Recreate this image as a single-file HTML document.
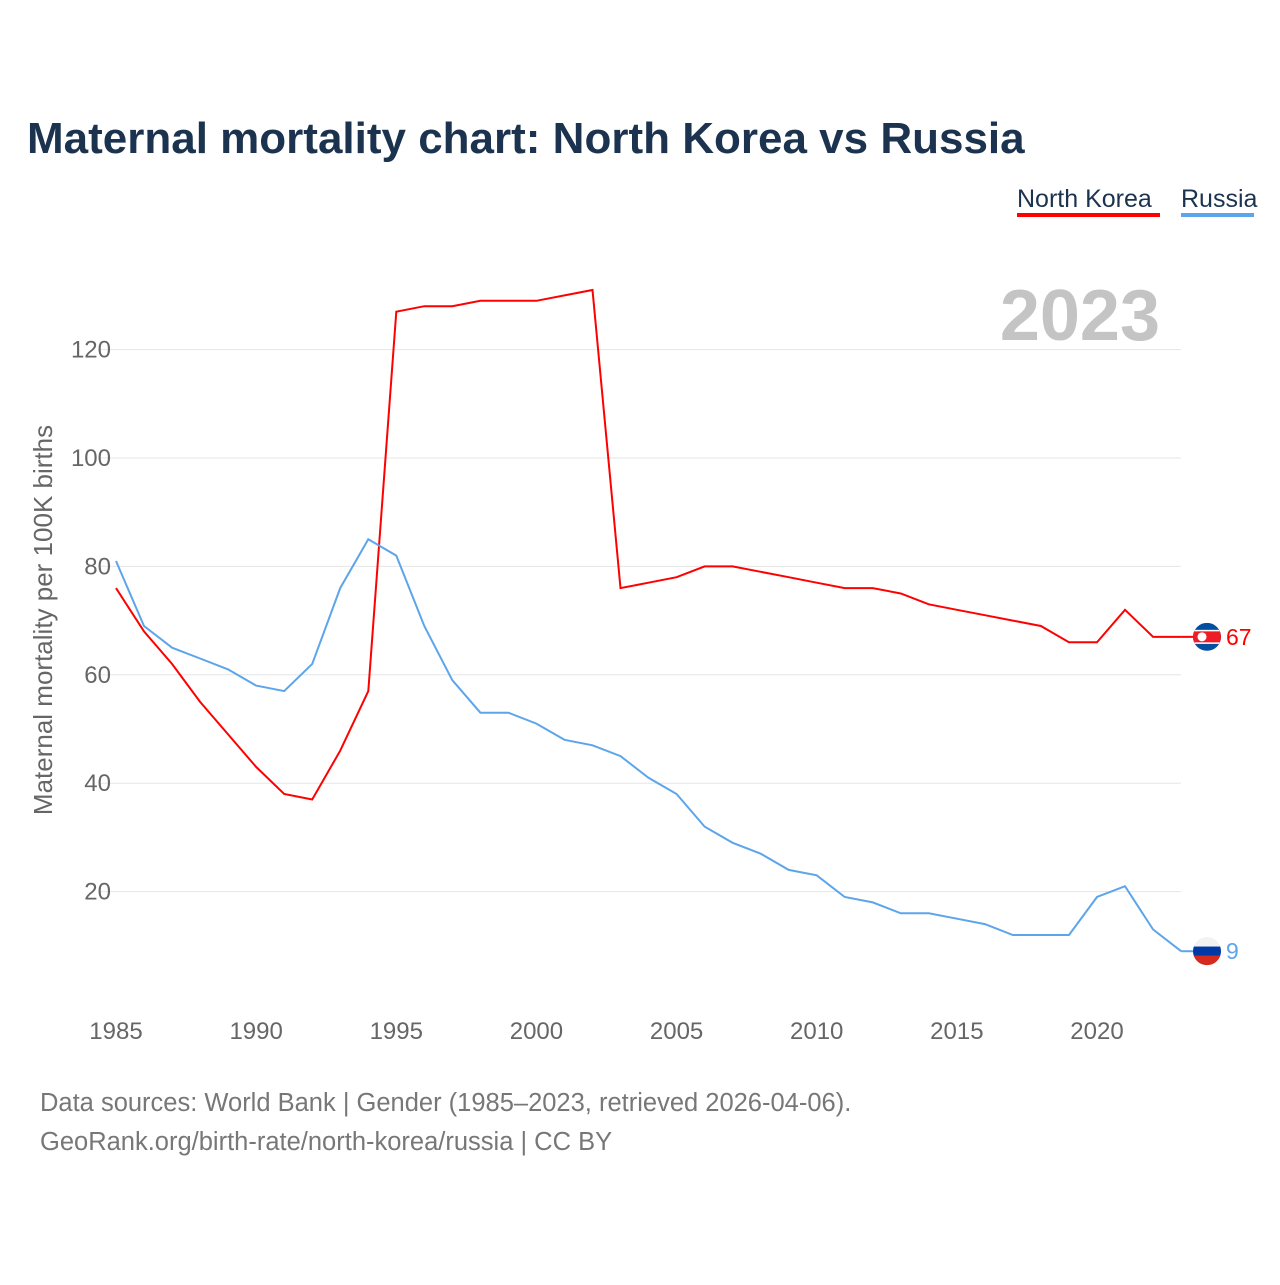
<!DOCTYPE html>
<html><head><meta charset="utf-8"><style>
body{margin:0;background:#fff;font-family:"Liberation Sans",sans-serif;}
svg text{font-family:"Liberation Sans",sans-serif;}
</style></head><body>
<svg id="chart" width="1280" height="1280" xmlns="http://www.w3.org/2000/svg">
<text x="27" y="153" font-size="44" font-weight="bold" fill="#1c3350">Maternal mortality chart: North Korea vs Russia</text>
<g>
<text x="1017" y="207" font-size="25" fill="#1c3350">North Korea</text>
<rect x="1017" y="213" width="143" height="4" fill="#ff0000"/>
<text x="1181" y="207" font-size="25" fill="#1c3350">Russia</text>
<rect x="1181" y="213" width="73" height="4" fill="#5da5ea"/>
</g>
<text x="1160" y="340" font-size="72" font-weight="bold" fill="#c4c4c4" text-anchor="end">2023</text>
<g id="grid"></g>
<g id="yticks"></g>
<g id="xticks"></g>
<text transform="translate(52,620) rotate(-90)" font-size="26" fill="#666" text-anchor="middle">Maternal mortality per 100K births</text>
<g id="series"></g>
<text x="40" y="1111" font-size="25.5" fill="#777">Data sources: World Bank | Gender (1985–2023, retrieved 2026-04-06).</text>
<text x="40" y="1150" font-size="25.5" fill="#777">GeoRank.org/birth-rate/north-korea/russia | CC BY</text>
</svg>
<script>
const years=[];for(let y=1985;y<=2023;y++)years.push(y);
const northKorea=[76,68,62,55,49,43,38,37,46,57,127,128,128,129,129,129,130,131,76,77,78,80,80,79,78,77,76,76,75,73,72,71,70,69,66,66,72,67,67];
const russia=[81,69,65,63,61,58,57,62,76,85,82,69,59,53,53,51,48,47,45,41,38,32,29,27,24,23,19,18,16,16,15,14,12,12,12,19,21,13,9];
const yTicks=[20,40,60,80,100,120];
const xTicks=[1985,1990,1995,2000,2005,2010,2015,2020];
const NS="http://www.w3.org/2000/svg";
const X=y=>116+(y-1985)*(1097-116)/35;
const Y=v=>1000-v*5.42;
function mk(t,a,p){const e=document.createElementNS(NS,t);for(const k in a)e.setAttribute(k,a[k]);p.appendChild(e);return e;}
const grid=document.getElementById('grid'),yt=document.getElementById('yticks'),xt=document.getElementById('xticks'),ser=document.getElementById('series');
yTicks.forEach(v=>{
 const l=mk('line',{x1:100,x2:1181,y1:Y(v),y2:Y(v),stroke:'#e6e6e6','stroke-width':1},grid);
 
 
 const t=mk('text',{x:111,y:Y(v)+8,'font-size':24,fill:'#666','text-anchor':'end'},yt);
 t.textContent=v;
 
 
});
xTicks.forEach(v=>{
 const t=mk('text',{x:X(v),y:1039,'font-size':24,fill:'#666','text-anchor':'middle'},xt);
 t.textContent=v;
 
 
});
function line(data,color,name){
 const d=data.map((v,i)=>(i?'L':'M')+X(years[i]).toFixed(1)+','+Y(v).toFixed(1)).join('');
 const p=mk('path',{d:d,fill:'none',stroke:color,'stroke-width':2},ser);
 
 
 const last=data[data.length-1],ly=Y(last),lx=X(years[years.length-1]);
 mk('line',{x1:lx,x2:1195,y1:ly,y2:ly,stroke:color,'stroke-width':2},ser);
 const c=mk('circle',{cx:1207,cy:ly,r:14,fill:'#eee'},ser);
 
 
 if(name==='north-korea'){
  mk('rect',{x:1193,y:ly-14,width:28,height:28,fill:'#024fa2'},ser);
 }
 const t=mk('text',{x:1226,y:ly+8,'font-size':23,fill:color},ser);
 t.textContent=last;
 
 
 return ly;
}
const nky=line(northKorea,'#ff0000','north-korea');
const ruy=line(russia,'#5da5ea','russia');
mk('rect',{x:1193,y:nky-7,width:28,height:14,fill:'#ed1c27'},ser);
mk('rect',{x:1193,y:nky-7,width:28,height:1.5,fill:'#fff'},ser);
mk('rect',{x:1193,y:nky+5.5,width:28,height:1.5,fill:'#fff'},ser);
mk('circle',{cx:1202,cy:nky,r:4.5,fill:'#fff'},ser);
mk('rect',{x:1193,y:ruy-4.7,width:28,height:9.4,fill:'#0039a6'},ser);
mk('rect',{x:1193,y:ruy+4.7,width:28,height:9.4,fill:'#d52b1e'},ser);
mk('rect',{x:1193,y:ruy-14,width:28,height:9.3,fill:'#f2f2f2'},ser);
const defs=mk('defs',{},document.getElementById('chart'));
[['c1',nky],['c2',ruy]].forEach(([id,cy])=>{const cp=mk('clipPath',{id:id},defs);mk('circle',{cx:1207,cy:cy,r:14},cp);});
Array.from(ser.children).forEach(e=>{if(e.tagName==='rect'){const cy=+e.getAttribute('y');e.setAttribute('clip-path',Math.abs(cy-nky)<20?'url(#c1)':'url(#c2)');}});
</script>
</body></html>
